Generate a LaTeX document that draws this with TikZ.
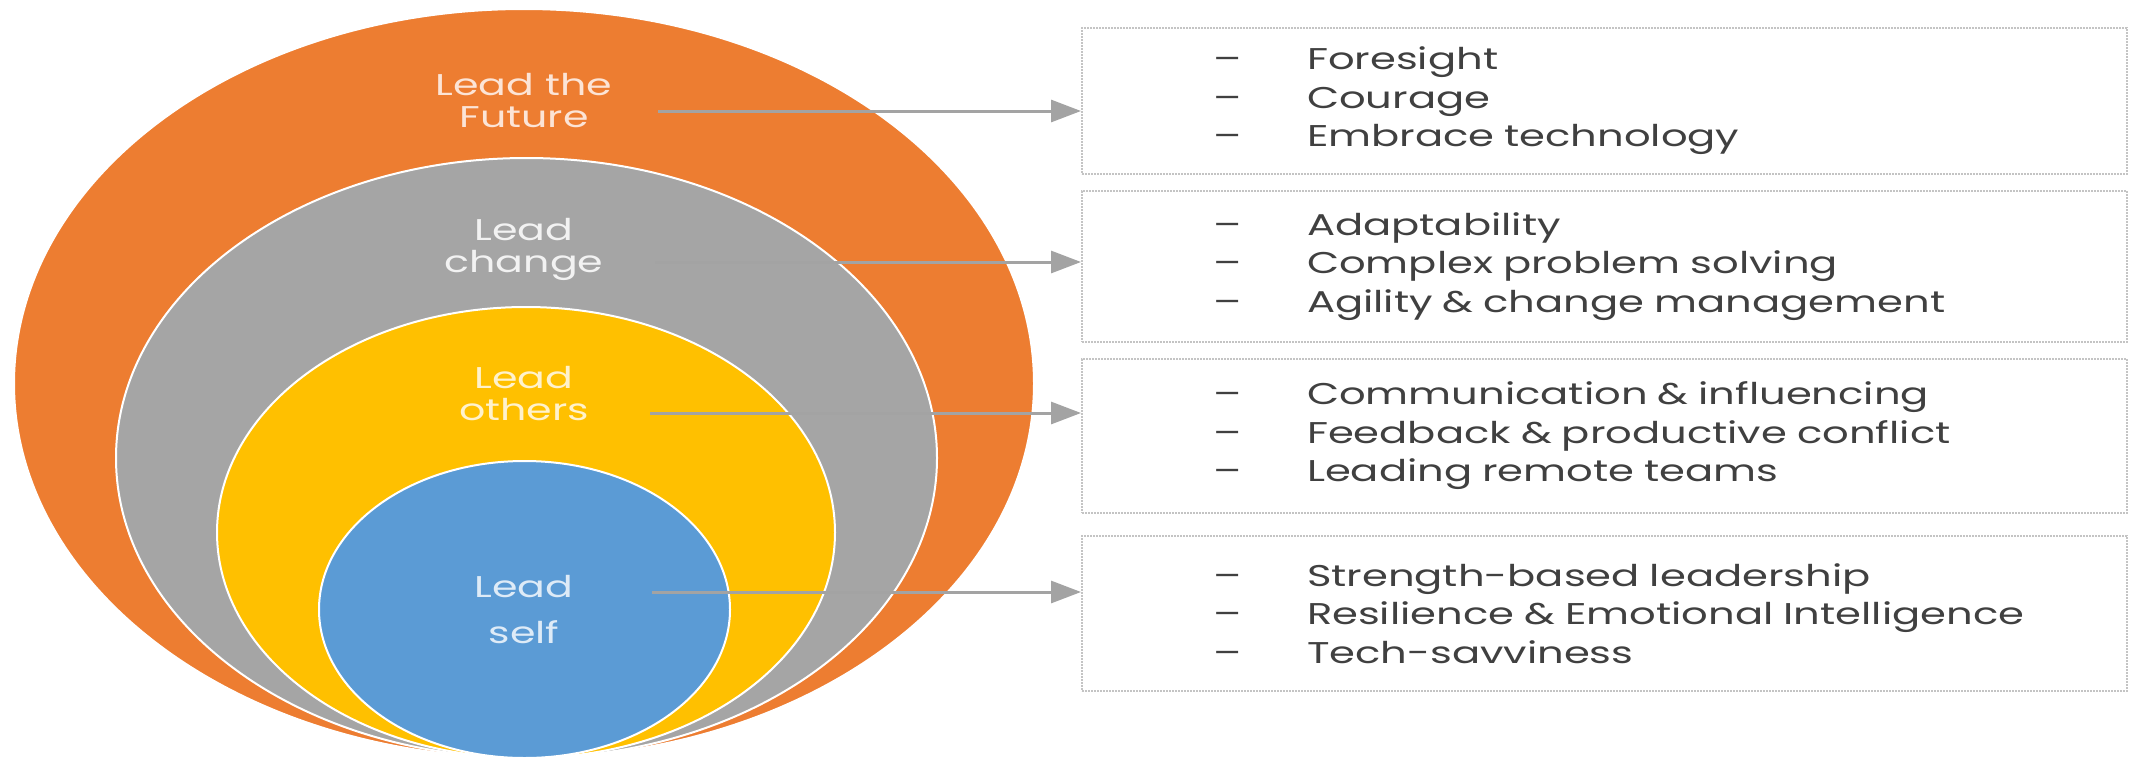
\documentclass[tikz,border=0pt]{standalone}
\usepackage{fontspec}
\usetikzlibrary{shapes.geometric,arrows.meta}

\newfontfamily\ringfont{Poppins}[FakeStretch=1.37]
\newfontfamily\itemfont{Poppins}[FakeStretch=1.39]

\def\itemdash{\hspace*{131pt}\makebox[94pt][l]{\textendash}}
\definecolor{ringfuture}{HTML}{ED7D31}
\definecolor{ringchange}{HTML}{A5A5A5}
\definecolor{ringothers}{HTML}{FFC000}
\definecolor{ringself}{HTML}{5B9BD5}
\definecolor{textfuture}{HTML}{FCE4D6}
\definecolor{textchange}{HTML}{F2F2F2}
\definecolor{textothers}{HTML}{FFF2CC}
\definecolor{textself}{HTML}{DEEBF7}
\definecolor{boxcolor}{HTML}{C4C4C4}
\definecolor{itemcolor}{HTML}{404040}
\definecolor{linkcolor}{HTML}{A3A3A3}

\begin{document}
\begin{tikzpicture}[x=1pt, y=-1pt,
    ring/.style={ellipse, draw=white, line width=2pt, inner sep=0pt},
    ringlabel/.style={font=\ringfont\fontsize{30}{32}\selectfont, align=center},
    itembox/.style={draw=boxcolor, dash pattern=on 2pt off 1pt, line width=2pt, anchor=north west,
        inner xsep=0pt, text width=1045pt, align=left, text=itemcolor,
        font=\itemfont\fontsize{30}{38.5}\selectfont},
    link/.style={draw, line width=3pt, linkcolor, -{Triangle[length=30pt, width=22pt]}}
    ]

    \useasboundingbox[fill=white] (0,0) rectangle (2131,761);

    % Rings
    \foreach \rid/\cx/\cy/\rx/\ry in {future/524/383.5/510/374.5, change/526.5/458/410.5/300,
        others/526/532.5/309/225.5, self/524.5/609.5/205.5/148.5} {
        \node[ring, fill=ring\rid, minimum width={2*\rx}, minimum height={2*\ry}] (r\rid) at (\cx,\cy) {};
    }

    % Ring labels
    \node[ringlabel, text=textfuture] (lfuture) at (524,101) {Lead the\\Future};
    \node[ringlabel, text=textchange] (lchange) at (524,249) {Lead\\change};
    \node[ringlabel, text=textothers] (lothers) at (524,394) {Lead\\others};
    \node[ringlabel, text=textself, font=\ringfont\fontsize{30}{46}\selectfont] (lself) at (524,610) {Lead\\self};

    % Boxes
    \node[itembox, minimum height=146pt] (bfuture) at (1081,27)
        {\itemdash Foresight\\\itemdash Courage\\\itemdash Embrace technology};
    \node[itembox, minimum height=151pt] (bchange) at (1081,190)
        {\itemdash Adaptability\\\itemdash Complex problem solving\\\itemdash Agility \& change management};
    \node[itembox, minimum height=154pt] (bothers) at (1081,358)
        {\itemdash Communication \& influencing\\\itemdash Feedback \& productive conflict\\\itemdash Leading remote teams};
    \node[itembox, minimum height=155pt] (bself) at (1081,535)
        {\itemdash Strength-based leadership\\\itemdash Resilience \& Emotional Intelligence\\\itemdash Tech-savviness};

    % Links
    \coordinate (afuture) at (658,111);
    \coordinate (achange) at (655,262);
    \coordinate (aothers) at (650,413);
    \coordinate (aself) at (652,592);
    \foreach \rid in {future, change, others, self} {
        \draw[link] (a\rid) -- (a\rid -| b\rid.west);
    }
\end{tikzpicture}
\end{document}
